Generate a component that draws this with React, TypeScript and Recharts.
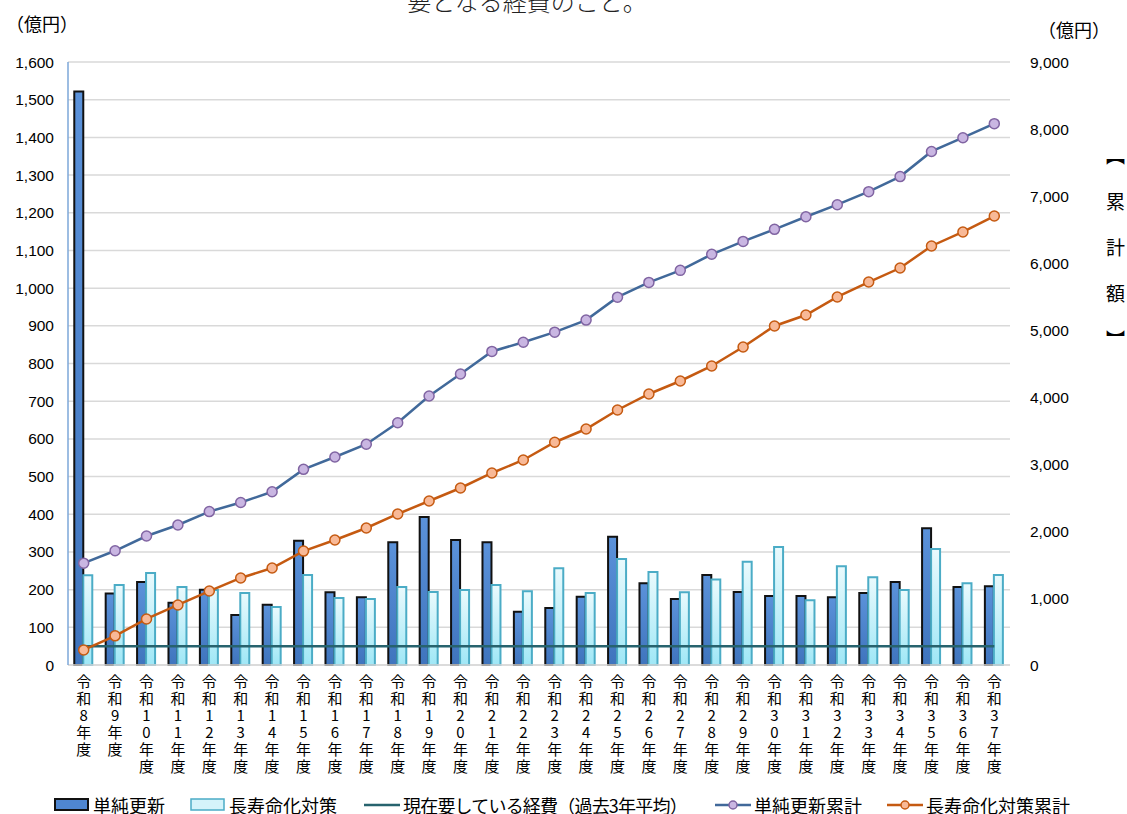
import React from 'react'
import {
  ComposedChart,
  Bar,
  Line,
  XAxis,
  YAxis,
  CartesianGrid,
} from 'recharts'

const years = [
  '令和8年度', '令和9年度', '令和10年度', '令和11年度', '令和12年度', '令和13年度',
  '令和14年度', '令和15年度', '令和16年度', '令和17年度', '令和18年度', '令和19年度',
  '令和20年度', '令和21年度', '令和22年度', '令和23年度', '令和24年度', '令和25年度',
  '令和26年度', '令和27年度', '令和28年度', '令和29年度', '令和30年度', '令和31年度',
  '令和32年度', '令和33年度', '令和34年度', '令和35年度', '令和36年度', '令和37年度',
]

// 単純更新 (億円)
const simpleRenewal = [
  1522, 190, 220, 165, 200, 133, 160, 330, 193, 180, 326, 393, 332, 326, 141,
  151, 181, 340, 217, 175, 239, 194, 183, 183, 180, 191, 220, 363, 207, 209,
]
// 長寿命化対策 (億円)
const longevity = [
  238, 212, 244, 207, 199, 191, 154, 239, 178, 175, 207, 194, 199, 212, 196,
  257, 191, 281, 247, 193, 227, 274, 313, 172, 262, 233, 199, 308, 217, 239,
]
// 現在要している経費（過去3年平均）
const currentCost = [
  50, 50, 50, 50, 50, 50, 50, 50, 50, 50, 50, 50, 50, 50, 50,
  50, 50, 50, 50, 50, 50, 50, 50, 50, 50, 50, 50, 50, 50, 50,
]
// 単純更新累計 (right axis)
const simpleCumulative = [
  1520, 1705, 1925, 2090, 2290, 2425, 2585, 2920, 3105, 3295, 3615, 4015, 4343, 4680, 4818,
  4968, 5148, 5490, 5710, 5890, 6130, 6322, 6502, 6690, 6870, 7065, 7290, 7665, 7870, 8080,
]
// 長寿命化対策累計 (right axis)
const longevityCumulative = [
  225, 435, 687, 896, 1104, 1299, 1448, 1700, 1866, 2045, 2254, 2448, 2642, 2866, 3060,
  3325, 3522, 3806, 4045, 4239, 4463, 4746, 5060, 5224, 5493, 5716, 5925, 6254, 6463, 6701,
]

const leftTicks = [0, 100, 200, 300, 400, 500, 600, 700, 800, 900, 1000, 1100, 1200, 1300, 1400, 1500, 1600]
const rightTicks = [0, 1000, 2000, 3000, 4000, 5000, 6000, 7000, 8000, 9000]

const data = years.map((name, i) => ({
  name,
  simple: simpleRenewal[i],
  longevity: longevity[i],
  current: currentCost[i],
  simpleCum: simpleCumulative[i],
  longCum: longevityCumulative[i],
}))

const JP = '"Noto Sans CJK JP", "Noto Sans", sans-serif'
const NUM = '"Liberation Sans", Arial, sans-serif'

const fmt = (v: number) => v.toLocaleString('en-US')

function VerticalTick({ x, y, payload }: any) {
  const chars = Array.from(String(payload.value))
  return (
    <text x={x} y={y} textAnchor="middle" fontSize={15} fontFamily={JP} fill="#000">
      {chars.map((c, i) => (
        <tspan key={i} x={x} dy={i === 0 ? 18 : 17}>
          {c}
        </tspan>
      ))}
    </text>
  )
}

function Swatch({ kind }: { kind: string }) {
  if (kind === 'simple')
    return (
      <svg width={36} height={14} style={{ display: 'block' }}>
        <rect x={1} y={1} width={33} height={11} fill="#4f86d0" stroke="#111" strokeWidth={2} />
      </svg>
    )
  if (kind === 'longevity')
    return (
      <svg width={36} height={14} style={{ display: 'block' }}>
        <rect x={1} y={1} width={33} height={11} fill="#d4f3fa" stroke="#4bacc6" strokeWidth={1.5} />
      </svg>
    )
  const color = kind === 'current' ? '#27636e' : kind === 'simpleCum' ? '#41699a' : '#c55a11'
  const fill = kind === 'simpleCum' ? '#c9b6e2' : '#f8b997'
  const stroke = kind === 'simpleCum' ? '#8064a2' : '#c55a11'
  return (
    <svg width={36} height={14} style={{ display: 'block' }}>
      <line x1={0} y1={7} x2={36} y2={7} stroke={color} strokeWidth={2.5} />
      {kind !== 'current' && <circle cx={18} cy={7} r={4} fill={fill} stroke={stroke} strokeWidth={1.5} />}
    </svg>
  )
}

const legendItems = [
  { kind: 'simple', label: '単純更新', left: 54 },
  { kind: 'longevity', label: '長寿命化対策', left: 190 },
  { kind: 'current', label: '現在要している経費（過去3年平均）', left: 364 },
  { kind: 'simpleCum', label: '単純更新累計', left: 715 },
  { kind: 'longCum', label: '長寿命化対策累計', left: 887 },
]

export default function App() {
  return (
    <div
      style={{
        position: 'absolute',
        left: 0,
        top: 0,
        width: 1127,
        height: 814,
        background: '#fff',
        overflow: 'hidden',
        fontFamily: JP,
      }}
    >
      <div
        style={{
          position: 'absolute',
          top: -17,
          left: 0,
          width: 1054,
          textAlign: 'center',
          fontSize: 24,
          fontWeight: 300,
          color: '#222',
        }}
      >
        要となる経費のこと。
      </div>
      <div style={{ position: 'absolute', top: 10, left: 6, fontSize: 18 }}>（億円）</div>
      <div style={{ position: 'absolute', top: 16, left: 1038, fontSize: 18 }}>（億円）</div>
      <div
        style={{
          position: 'absolute',
          top: 146,
          left: 1106,
          fontSize: 19,
          writingMode: 'vertical-rl',
          letterSpacing: 27,
          lineHeight: 1,
        }}
      >
        【累計額】
      </div>

      <ComposedChart
        width={1127}
        height={814}
        data={data}
        margin={{ top: 62, right: 47, left: 8, bottom: 0 }}
        barGap={0}
        barCategoryGap="20%"
        style={{ position: 'absolute', left: 0, top: 0 }}
      >
        <defs>
          <linearGradient id="gSimple" x1="0" y1="0" x2="0" y2="1">
            <stop offset="0%" stopColor="#5b92da" />
            <stop offset="100%" stopColor="#3f74bd" />
          </linearGradient>
          <linearGradient id="gLong" x1="0" y1="0" x2="0" y2="1">
            <stop offset="0%" stopColor="#eafafd" />
            <stop offset="100%" stopColor="#9fe7f6" />
          </linearGradient>
        </defs>
        <CartesianGrid yAxisId="left" vertical={false} stroke="#d9d9d9" strokeWidth={1.5} />
        <XAxis
          dataKey="name"
          interval={0}
          height={149}
          tickLine={false}
          tickSize={0}
          tickMargin={4}
          axisLine={{ stroke: '#d9d9d9', strokeWidth: 1.5 }}
          tick={<VerticalTick />}
        />
        <YAxis
          yAxisId="left"
          width={60}
          domain={[0, 1600]}
          ticks={leftTicks}
          tickFormatter={fmt}
          tickLine={false}
          tickSize={0}
          tickMargin={14}
          axisLine={{ stroke: '#7da7d9', strokeWidth: 1.5 }}
          tick={{ fill: '#000', fontSize: 15.5, fontFamily: NUM }}
        />
        <YAxis
          yAxisId="right"
          orientation="right"
          width={70}
          domain={[0, 9000]}
          ticks={rightTicks}
          tickFormatter={fmt}
          tickLine={false}
          tickSize={0}
          tickMargin={20}
          axisLine={false}
          tick={{ fill: '#000', fontSize: 15.5, fontFamily: NUM, textAnchor: 'start' }}
        />
        <Bar
          yAxisId="left"
          dataKey="simple"
          name="単純更新"
          fill="url(#gSimple)"
          stroke="#111"
          strokeWidth={2}
          isAnimationActive={false}
        />
        <Bar
          yAxisId="left"
          dataKey="longevity"
          name="長寿命化対策"
          fill="url(#gLong)"
          stroke="#4bacc6"
          strokeWidth={2}
          isAnimationActive={false}
        />
        <Line
          yAxisId="left"
          dataKey="current"
          name="現在要している経費（過去3年平均）"
          type="linear"
          stroke="#27636e"
          strokeWidth={2.5}
          dot={false}
          activeDot={false}
          isAnimationActive={false}
        />
        <Line
          yAxisId="right"
          dataKey="simpleCum"
          name="単純更新累計"
          type="linear"
          stroke="#41699a"
          strokeWidth={2.5}
          dot={{ r: 5, fill: '#c9b6e2', stroke: '#8064a2', strokeWidth: 1.5 }}
          isAnimationActive={false}
        />
        <Line
          yAxisId="right"
          dataKey="longCum"
          name="長寿命化対策累計"
          type="linear"
          stroke="#c55a11"
          strokeWidth={2.5}
          dot={{ r: 5, fill: '#f8b997', stroke: '#c55a11', strokeWidth: 1.5 }}
          isAnimationActive={false}
        />
      </ComposedChart>

      {legendItems.map((it) => (
        <div
          key={it.kind}
          style={{
            position: 'absolute',
            top: 796,
            left: it.left,
            height: 18,
            display: 'flex',
            alignItems: 'center',
            fontSize: 18,
            lineHeight: '18px',
            whiteSpace: 'nowrap',
            letterSpacing: it.kind === 'current' ? -0.8 : 0,
          }}
        >
          <Swatch kind={it.kind} />
          <span style={{ marginLeft: 3 }}>{it.label}</span>
        </div>
      ))}
    </div>
  )
}
